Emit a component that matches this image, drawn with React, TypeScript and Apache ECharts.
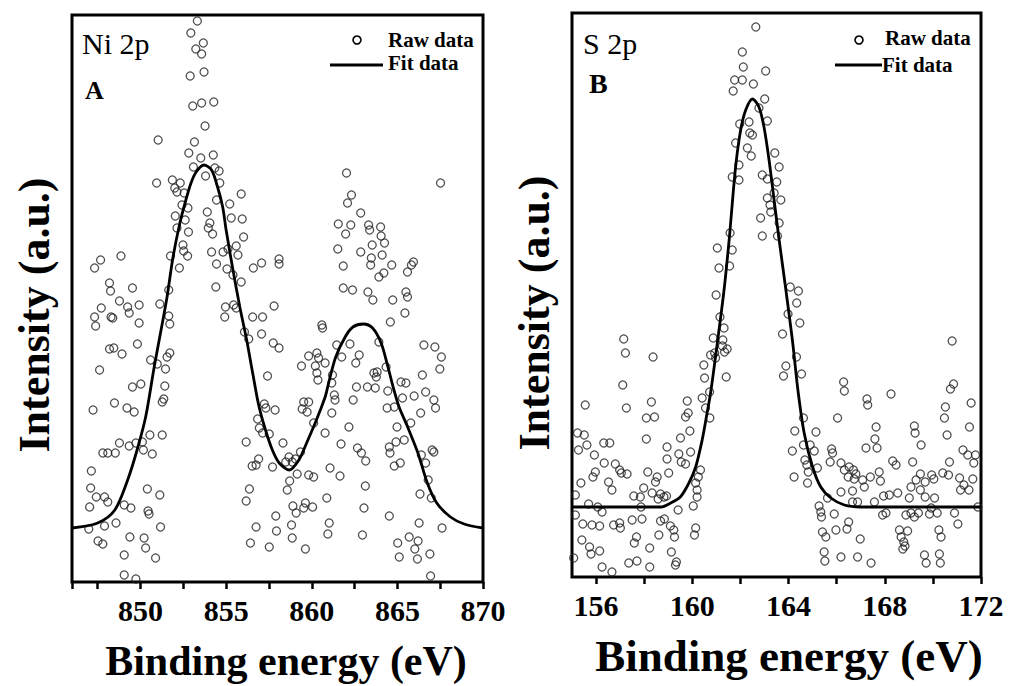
import React, { useEffect, useRef } from "react";
import * as echarts from "echarts";

// ---------- Panel A: Ni 2p ----------
const niRaw: [number, number][] = [
  [853.32,561],[852.94,549],[853.67,539],[853.23,533],[853.57,528],[853.71,510],[852.90,506],[854.28,480],[853.57,479],[853.05,476],[853.77,456],[851.03,442],[853.15,440],[852.82,429],[853.52,424],[854.25,427],[853.09,415],[854.34,414],[854.59,411],[853.80,406],[850.94,399],[851.86,402],[852.32,399],[852.00,394],[852.13,390],[852.55,389],[854.63,399],[855.88,388],[854.44,382],[862.03,409],[862.32,387],[867.52,399],
  [852.42,377],[852.77,374],[852.03,366],[852.61,362],[852.13,354],[852.80,350],[853.90,370],[854.05,359],[853.96,354],[854.21,348],[855.21,378],[855.30,364],[855.94,363],[856.02,345],[855.59,336],[855.11,333],[855.69,327],[854.15,330],[854.82,330],[854.44,318],[855.05,313],[855.40,307],[855.88,300],[852.48,337],[852.52,331],[852.75,326],[851.75,326],[852.27,314],[851.65,292],[851.13,278],[851.65,266],[851.71,258],[854.40,295],[854.96,275],[855.44,277],[855.59,274],[854.92,265],[856.55,265],[857.13,265],[856.07,250],[856.32,243],[857.07,248],[857.75,239],[858.09,234],[857.42,206],[856.59,314],[857.07,319],[858.09,323],[858.09,318],[857.80,276],
  [847.32,314],[847.67,322],[848.86,326],[848.19,299],[848.25,291],[849.53,294],[848.77,281],[849.25,275],[849.34,269],[849.92,277],[847.71,274],[847.32,265],[847.38,256],[848.28,265],[848.38,264],[849.92,259],[849.82,238],[848.19,233],[848.44,234],[848.92,228],[847.61,212],[850.59,222],[851.71,229],[851.55,225],[851.46,213],[849.53,195],[850.02,198],[851.42,196],[851.36,183],[851.27,180],[847.23,172],[848.48,179],[849.21,174],[849.63,170],
  [862.09,379],[862.86,369],[861.55,358],[862.28,357],[861.98,348],[863.32,357],[864.02,355],[863.38,352],[864.05,346],[864.25,339],[863.53,337],[861.52,333],[862.86,330],[864.11,327],[863.48,324],[863.44,317],[861.84,316],[864.67,317],[865.94,320],[865.82,317],[865.59,310],[864.21,309],[863.92,305],[861.84,294],[862.38,292],[863.28,290],[863.57,282],[864.73,282],[865.50,290],[865.59,285],[865.44,269],[864.59,260],[860.59,257],[860.63,254],[861.46,237],[862.23,238],[862.77,227],[863.92,240],[862.57,219],[859.82,226],[860.30,229],[860.40,224],[860.78,219],[859.40,216],[860.21,216],[860.30,209],[860.36,202],[861.21,207],[861.17,199],[861.75,225],[863.63,209],[863.82,210],[863.77,205],[864.34,215],[862.61,195],[863.25,195],[863.71,194],[865.21,200],[865.50,199],[866.55,237],[867.19,235],[867.57,225],[867.48,213],[866.46,207],[866.65,190],[865.98,186],[865.30,184],[864.44,191],[867.13,182],[867.23,174],[864.82,175],[864.40,174],[866.36,169],[862.42,182],[861.32,187],[861.36,182],[859.53,180],[859.82,180],[859.44,173],[859.73,170],[861.17,169],[857.23,178],[857.32,174],[857.86,172],[850.98,218],
  [850.55,147],[851.27,147],[848.77,139],[849.34,136],[849.73,139],[850.11,140],[850.17,132],[850.69,128],[847.80,129],[848.09,129],[848.53,129],[847.13,111],[847.09,94],[847.42,85],[847.90,85],[848.09,80],[847.03,75],[849.05,77],[849.44,74],[850.40,93],[851.13,87],[850.44,71],[850.50,68],[848.57,59],[847.90,56],[846.98,53],[851.17,55],[847.52,41],[847.80,38],[849.38,45],[850.21,44],[850.30,34],[849.05,27],[850.88,24],[849.05,7],[849.73,3],
  [856.17,140],[856.84,163],[856.94,154],[857.13,149],[857.52,148],[856.90,123],[856.52,116],[856.75,117],[857.71,115],[858.32,139],[858.48,120],[858.67,125],[858.86,120],[859.05,123],[859.34,130],[858.71,101],[858.57,92],[859.15,108],[859.82,107],[860.11,105],[856.36,93],[856.17,81],[857.90,66],[858.90,76],[859.09,69],[859.63,79],[860.05,75],[859.53,74],[856.75,55],[857.94,51],[858.82,57],[858.86,44],[856.42,39],[857.52,35],[859.63,33],
  [860.88,84],[861.02,59],[860.94,48],[862.96,47],[863.05,74],[863.13,96],[861.07,114],[861.65,106],[861.71,138],[862.17,155],[862.67,134],[862.90,129],[863.15,121],[860.78,149],[860.11,159],[864.53,135],[864.57,129],[864.82,116],[865.17,119],[864.98,155],[864.92,140],[865.40,142],[865.78,159],[866.40,127],[866.65,119],[867.03,132],[867.13,130],[866.80,102],[866.32,88],[866.98,84],[864.53,66],[866.27,59],[865.69,45],[866.21,41],[865.02,39],[866.02,33],[865.11,25],[866.17,23],[866.90,28],[867.61,54],[866.94,6]
];

const niFit: [number, number][] = [
  [846,54],[847.5,59],[848.5,72],[849.25,102],[849.8,132],[850.3,165],[850.8,215],[851.2,252],[851.55,285],[851.9,325],[852.3,359],[852.65,382],[852.95,399],[853.25,410],[853.7,417],[854.15,412],[854.5,395],[854.8,375],[855.0,352],[855.4,312],[855.8,275],[856.2,242],[856.55,209],[856.9,177],[857.3,152],[857.7,132],[858.1,119],[858.7,112],[859.25,122],[859.7,139],[860.2,159],[860.5,172],[860.8,186],[861.0,200],[861.4,225],[861.95,245],[862.4,255],[863.0,258],[863.55,254],[864.05,239],[864.45,215],[864.8,192],[865.1,175],[865.6,155],[866.2,129],[866.75,99],[867.3,79],[868.1,65],[868.9,58],[870,54]
];

// ---------- Panel B: S 2p ----------
const sRaw: [number, number][] = [
  [162.64,550],[162.08,525],[162.12,510],[163.05,506],[161.76,497],[162.08,497],[162.54,493],[161.70,486],[163.01,478],[162.77,469],[163.12,456],[161.97,453],[162.36,455],[162.39,444],[162.50,442],[161.80,434],[162.29,429],[162.45,421],[163.43,424],[163.61,410],[161.94,412],[161.66,400],[161.94,397],[162.91,402],[163.12,398],[163.51,395],[163.40,384],[163.12,379],[163.68,377],[163.23,372],[163.26,365],[162.84,359],
  [163.61,354],[162.91,341],[163.54,341],[161.57,344],[161.66,327],[161.04,329],[161.55,311],[161.11,309],[160.99,282],[161.15,260],[161.32,249],[160.87,239],[161.27,237],[161.25,231],[161.45,228],[161.34,225],[160.93,224],[160.76,222],[160.97,219],[160.48,212],[160.51,199],[161.41,200],[160.72,185],[160.41,179],[160.55,169],[160.73,159],[164.07,290],[164.41,286],[164.34,274],[163.98,263],[164.47,254],[163.75,243],[164.33,220],[163.89,211],[163.79,201],[164.54,203],[164.62,159],
  [157.15,238],[157.22,224],[158.37,220],[157.11,192],[157.26,169],[158.30,175],[155.55,172],[159.79,176],[159.83,164],[159.72,160],[158.09,159],[158.43,160],[166.29,195],[166.32,186],[167.26,178],[167.29,172],[168.26,183],[166.04,159],[170.80,236],[170.86,193],[170.73,188],[171.59,174],[170.52,170],[170.48,159],
  [155.23,144],[155.51,142],[155.27,127],[155.62,132],[156.32,134],[156.57,134],[155.93,122],[156.34,114],[156.80,113],[156.98,107],[155.97,105],[155.87,100],[157.29,103],[157.05,104],[158.09,138],[158.95,130],[159.51,139],[159.90,146],[159.44,123],[159.54,115],[159.72,113],[159.93,125],[158.95,118],[159.02,104],[158.15,105],[158.54,100],[158.47,95],[160.34,107],[160.25,100],[160.14,94],[155.37,94],[155.14,82],[156.52,95],[156.66,87],[157.57,81],[157.84,80],[157.98,89],[158.33,84],[158.68,83],[158.82,80],[158.93,81],[158.58,78],[160.20,87],[160.20,80],[160.04,71],[155.69,73],[156.07,70],[156.25,65],[157.87,70],[155.14,62],[155.45,53],[155.83,52],[156.15,51],[156.73,52],[156.98,54],[157.01,49],[157.50,57],[157.91,58],[158.68,56],[158.84,58],[159.09,51],[159.23,47],[159.41,67],[159.26,40],[158.61,42],[157.68,40],[157.59,34],[160.14,49],[160.09,42],[155.41,37],[155.73,30],[155.79,23],[156.15,26],[155.07,19],[156.25,10],[156.66,5],[157.36,14],[157.70,16],[158.23,29],[158.23,10],[159.13,25],[159.34,15],[159.30,12],
  [164.26,146],[164.16,126],[164.62,132],[165.14,145],[164.90,132],[165.07,126],[165.79,128],[165.83,124],[165.73,115],[166.18,114],[166.52,110],[166.32,107],[166.70,107],[166.80,103],[166.48,100],[166.73,98],[167.08,97],[167.40,100],[167.15,90],[167.64,150],[167.59,138],[167.22,129],[167.68,129],[167.77,105],[167.82,96],[168.33,116],[168.47,112],[169.23,151],[169.26,144],[169.51,132],[169.16,115],[169.48,103],[169.30,97],[169.09,90],[169.68,95],[169.95,102],[170.04,98],[170.59,142],[171.52,150],[171.25,127],[171.45,122],[171.77,122],[171.70,114],[170.69,115],[170.41,104],[170.65,102],[171.11,99],[171.66,98],[171.29,92],[171.15,87],[171.50,87],[171.87,70],
  [164.23,100],[164.79,94],[164.82,105],[165.20,109],[164.76,112],[164.68,117],[165.62,79],[165.27,71],[165.34,65],[165.37,60],[165.90,63],[166.18,85],[166.66,86],[166.66,75],[166.87,75],[167.57,75],[167.95,81],[168.19,82],[168.54,84],[167.91,62],[168.05,64],[169.02,79],[169.48,87],[169.68,80],[170.07,79],[169.40,64],[169.09,64],[168.88,62],[169.23,60],[169.86,63],[169.93,69],[170.18,64],[170.90,64],[171.04,53],[165.97,47],[166.43,48],[165.41,45],[165.55,40],[166.50,55],[166.98,38],[165.48,25],[165.51,16],[166.18,20],[166.87,20],[167.43,14],[168.61,47],[168.95,46],[168.68,40],[168.79,35],[168.84,31],[168.75,28],[170.25,47],[170.34,40],[169.65,22],[169.72,14],[170.27,23],[170.31,14]
];

const sFit: [number, number][] = [
  [155,70],[158.7,70],[159.1,74],[159.5,80],[159.86,94],[160.14,110],[160.41,137],[160.6,162],[160.76,184],[161.04,234],[161.32,287],[161.52,334],[161.6,356],[161.8,410],[162.01,447],[162.22,467],[162.5,478],[162.77,470],[162.98,450],[163.19,417],[163.4,377],[163.61,337],[163.89,287],[164.16,237],[164.4,185],[164.65,144],[165.0,110],[165.34,90],[165.76,79],[166.32,72],[167.0,70],[172,70]
];

const xTitle = "Binding energy (eV)";
const yTitle = "Intensity (a.u.)";
const legendRaw = "Raw data";
const legendFit = "Fit data";

const SERIF = "Liberation Serif";

function xAxisCfg(gridIndex: number, min: number, max: number, labelStep: number, extra: any) {
  return {
    type: "value",
    gridIndex,
    min,
    max,
    axisLine: { show: false },
    splitLine: { show: false },
    axisTick: { show: true, inside: false, length: 7, lineStyle: { color: "#000", width: 2.5 } },
    axisLabel: {
      margin: 13,
      fontSize: 30,
      fontWeight: "bold",
      color: "#000",
      fontFamily: SERIF,
      showMinLabel: false,
      formatter: (v: number) => (Math.abs(v / labelStep - Math.round(v / labelStep)) < 1e-6 ? String(Math.round(v)) : ""),
    },
    ...extra,
  };
}

function text(x: number, y: number, t: string, size: number, weight: string, align = "left", rotation = 0) {
  return {
    type: "text",
    x,
    y,
    rotation,
    style: {
      text: t,
      fontSize: size,
      fontWeight: weight,
      fontFamily: SERIF,
      fill: "#000",
      align,
      verticalAlign: "middle",
    },
    z: 10,
  };
}

export default function App() {
  const ref = useRef<HTMLDivElement>(null);
  useEffect(() => {
    if (!ref.current) return;
    const chart = echarts.init(ref.current, undefined, { renderer: "svg" });
    const scatterStyle = { color: "rgba(0,0,0,0)", borderColor: "#222", borderWidth: 1.3 };
    const option: any = {
      animation: false,
      backgroundColor: "#fff",
      textStyle: { fontFamily: SERIF },
      grid: [
        { left: 72, top: 15, width: 411, height: 567, show: true, borderColor: "#000", borderWidth: 3, backgroundColor: "transparent" },
        { left: 572, top: 13, width: 409, height: 564, show: true, borderColor: "#000", borderWidth: 3, backgroundColor: "transparent" },
      ],
      xAxis: [
        xAxisCfg(0, 846, 870, 5, { minorTick: { show: true, splitNumber: 2, length: 7, lineStyle: { color: "#000", width: 2.5 } } }),
        xAxisCfg(1, 155, 172, 4, { splitNumber: 8 }),
      ],
      yAxis: [
        { type: "value", gridIndex: 0, min: 0, max: 567, show: false },
        { type: "value", gridIndex: 1, min: 0, max: 564, show: false },
      ],
      series: [
        { type: "scatter", xAxisIndex: 0, yAxisIndex: 0, data: niRaw, symbol: "circle", symbolSize: 8, itemStyle: scatterStyle, z: 2 },
        { type: "line", xAxisIndex: 0, yAxisIndex: 0, data: niFit, showSymbol: false, smooth: 0.3, lineStyle: { color: "#000", width: 2.8 }, z: 3 },
        { type: "scatter", xAxisIndex: 1, yAxisIndex: 1, data: sRaw, symbol: "circle", symbolSize: 8, itemStyle: scatterStyle, z: 2 },
        { type: "line", xAxisIndex: 1, yAxisIndex: 1, data: sFit, showSymbol: false, smooth: 0.3, lineStyle: { color: "#000", width: 2.8 }, z: 3 },
      ],
      graphic: [
        text(82, 43, "Ni 2p", 30, "normal"),
        text(85, 90, "A", 26, "bold"),
        text(583, 43, "S 2p", 30, "normal"),
        text(589, 83, "B", 28, "bold"),
        { type: "circle", shape: { cx: 357, cy: 40, r: 4 }, style: { fill: "none", stroke: "#000", lineWidth: 1.6 }, z: 10 },
        { type: "line", shape: { x1: 330, y1: 65, x2: 383, y2: 65 }, style: { stroke: "#000", lineWidth: 2.8 }, z: 10 },
        text(388, 40, legendRaw, 21, "bold"),
        text(388, 63, legendFit, 21, "bold"),
        { type: "circle", shape: { cx: 859, cy: 40, r: 4 }, style: { fill: "none", stroke: "#000", lineWidth: 1.6 }, z: 10 },
        { type: "line", shape: { x1: 835, y1: 65, x2: 882, y2: 65 }, style: { stroke: "#000", lineWidth: 2.8 }, z: 10 },
        text(885, 38, legendRaw, 21, "bold"),
        text(882, 65, legendFit, 21, "bold"),
        text(286, 661, xTitle, 42, "bold", "center"),
        text(789, 656, xTitle, 45, "bold", "center"),
        text(34, 315, yTitle, 44, "bold", "center", Math.PI / 2),
        text(534, 313, yTitle, 44, "bold", "center", Math.PI / 2),
      ],
    };
    chart.setOption(option);
    return () => chart.dispose();
  }, []);
  return (
    <div
      ref={ref}
      style={{ position: "fixed", left: 0, top: 0, width: 1010, height: 686, background: "#fff" }}
    />
  );
}
